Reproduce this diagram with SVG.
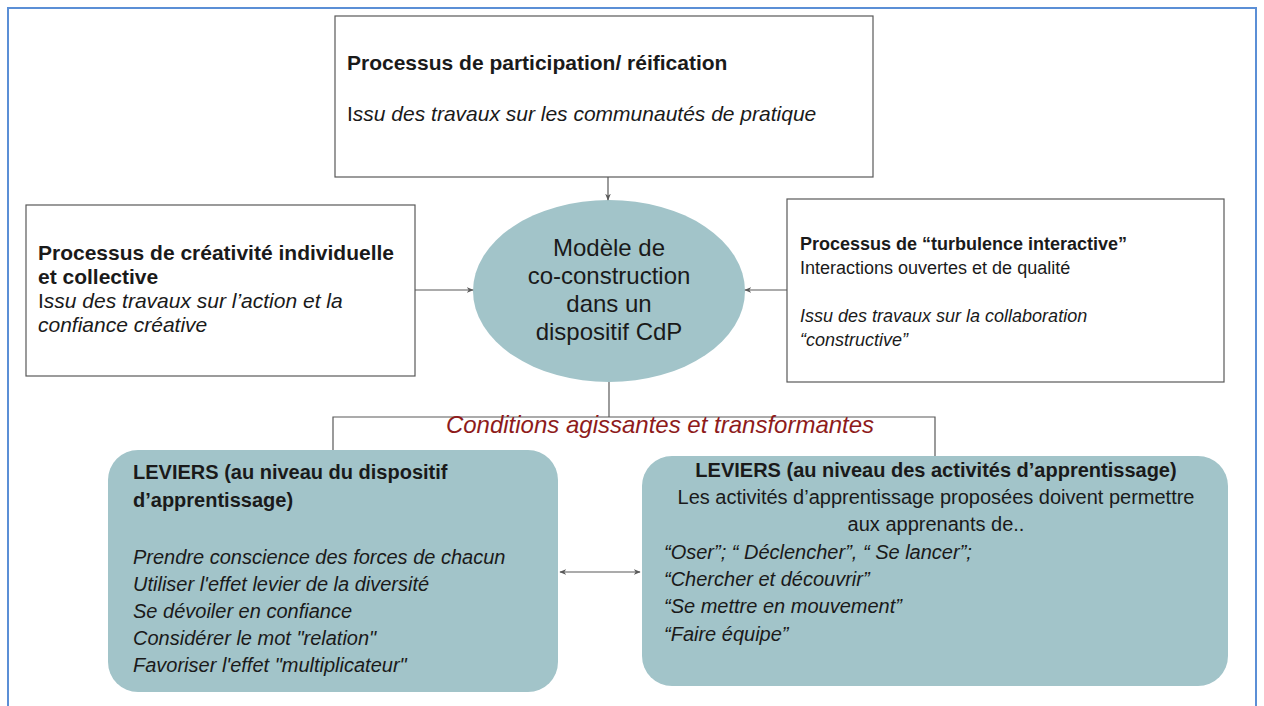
<svg xmlns="http://www.w3.org/2000/svg" width="1264" height="706" viewBox="0 0 1264 706">
<defs>
<style>
.box{fill:#ffffff;stroke:#595959;stroke-width:1.2}
.teal{fill:#a2c4c9;stroke:none}
.t{font-family:"Liberation Sans",Arial,sans-serif;font-size:20px;fill:#1a1a1a}
.l{font-size:21px}
.s{font-size:18px}
.b{font-weight:bold}
.i{font-style:italic}
.c{text-anchor:middle}
.con{fill:none;stroke:#595959;stroke-width:1.2}
</style>
<marker id="ah" viewBox="0 0 10 10" refX="9" refY="5" markerWidth="7" markerHeight="7" orient="auto-start-reverse" markerUnits="userSpaceOnUse">
<path d="M0,1 L10,5 L0,9 L3,5 Z" fill="#595959"/>
</marker>
</defs>
<rect x="0" y="0" width="1264" height="706" fill="#ffffff"/>
<rect x="8" y="8" width="1248" height="720" fill="none" stroke="#5b8fd6" stroke-width="2"/>

<g id="top">
<rect class="box" x="335" y="16" width="538" height="161"/>
<text class="t l b" x="347" y="70">Processus de participation/ réification</text>
<text class="t l" x="347" y="121"><tspan>I</tspan><tspan class="i">ssu des travaux sur les communautés de pratique</tspan></text>
</g>

<g id="left">
<rect class="box" x="26" y="205" width="389" height="171"/>
<text class="t l b" x="38" y="260">Processus de créativité individuelle</text>
<text class="t l b" x="38" y="284">et collective</text>
<text class="t l" x="38" y="308"><tspan>I</tspan><tspan class="i">ssu des travaux sur l’action et la</tspan></text>
<text class="t l i" x="38" y="332">confiance créative</text>
</g>

<g id="right">
<rect class="box" x="787" y="199" width="437" height="183"/>
<text class="t s b" x="800" y="250">Processus de “turbulence interactive”</text>
<text class="t s" x="800" y="274">Interactions ouvertes et de qualité</text>
<text class="t s i" x="800" y="322">Issu des travaux sur la collaboration</text>
<text class="t s i" x="800" y="346">“constructive”</text>
</g>

<g id="center">
<ellipse class="teal" cx="609" cy="291" rx="136" ry="91"/>
<g class="t c" style="font-size:24px">
<text x="609" y="256">Modèle de</text>
<text x="609" y="284">co-construction</text>
<text x="609" y="312">dans un</text>
<text x="609" y="340">dispositif CdP</text>
</g>
</g>

<g id="leviers-dispositif">
<rect class="teal" x="108" y="450" width="450" height="242" rx="30"/>
<text class="t b" x="133" y="479">LEVIERS (au niveau du dispositif</text>
<text class="t b" x="133" y="507">d’apprentissage)</text>
<g class="t i">
<text x="133" y="564">Prendre conscience des forces de chacun</text>
<text x="133" y="591">Utiliser l'effet levier de la diversité</text>
<text x="133" y="618">Se dévoiler en confiance</text>
<text x="133" y="645">Considérer le mot "relation"</text>
<text x="133" y="672">Favoriser l'effet "multiplicateur"</text>
</g>
</g>

<g id="leviers-activites">
<rect class="teal" x="642" y="456" width="586" height="230" rx="30"/>
<text class="t b c" x="936" y="477">LEVIERS (au niveau des activités d’apprentissage)</text>
<text class="t c" x="936" y="504">Les activités d’apprentissage proposées doivent permettre</text>
<text class="t c" x="936" y="531">aux apprenants de..</text>
<g class="t i">
<text x="664" y="559">“Oser”; “ Déclencher”, “ Se lancer”;</text>
<text x="664" y="586">“Chercher et découvrir”</text>
<text x="664" y="613">“Se mettre en mouvement”</text>
<text x="664" y="641">“Faire équipe”</text>
</g>
</g>

<g id="connectors">
<line class="con" x1="608" y1="177" x2="608" y2="200" marker-end="url(#ah)"/>
<line class="con" x1="415" y1="290" x2="473" y2="290" marker-end="url(#ah)"/>
<line class="con" x1="787" y1="290" x2="745" y2="290" marker-end="url(#ah)"/>
<polyline class="con" points="609,382 609,417"/>
<polyline class="con" points="333,450 333,417 935,417 935,456"/>
<line class="con" x1="560" y1="572" x2="640" y2="572" marker-start="url(#ah)" marker-end="url(#ah)"/>
<text x="660" y="433" style="font-family:'Liberation Sans',Arial,sans-serif;font-size:24px;font-style:italic;fill:#8e1b1b" text-anchor="middle">Conditions agissantes et transformantes</text>
</g>
</svg>
